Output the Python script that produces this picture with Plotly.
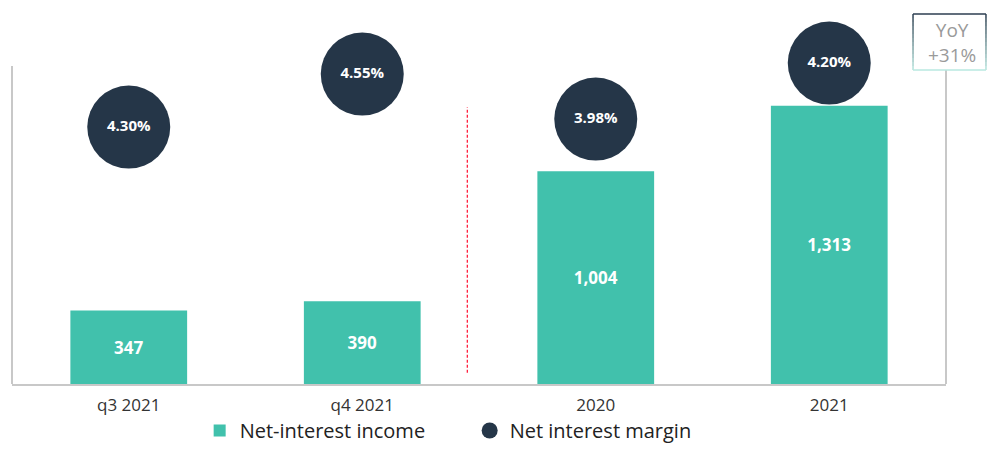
import plotly.graph_objects as go

# Net-interest income (bars) and net interest margin (bubbles)
periods = ["q3 2021", "q4 2021", "2020", "2021"]
net_interest_income = [347, 390, 1004, 1313]
net_interest_margin = [4.30, 4.55, 3.98, 4.20]
yoy_label = ["YoY", "+31%"]

TEAL = "#41c1ac"
NAVY = "#253648"
AXIS = "#c8c8c8"
FONT = "Open Sans"

quarterly = [0, 1]
annual = [2, 3]

# Frame height as a share of the plotting area (bubbles may rise above it)
FRAME_TOP = 318 / 364

fig = go.Figure()

fig.add_trace(go.Bar(
    x=periods,
    y=net_interest_income,
    name="Net-interest income",
    marker=dict(color=TEAL, line=dict(width=0)),
    text=[f"{v:,}" for v in net_interest_income],
    textposition="inside",
    insidetextanchor="middle",
    textfont=dict(family=FONT, size=17, color="white", weight="bold"),
    hoverinfo="skip",
))

# Margin bubbles: quarterly and annual panels each get their own scale
for idx, axis, show in [(quarterly, "y2", True), (annual, "y3", False)]:
    fig.add_trace(go.Scatter(
        x=[periods[i] for i in idx],
        y=[net_interest_margin[i] for i in idx],
        yaxis=axis,
        mode="markers+text",
        name="Net interest margin",
        legendgroup="nim",
        showlegend=show,
        marker=dict(color=NAVY, size=83, line=dict(width=0)),
        text=[f"{net_interest_margin[i]:.2f}%" for i in idx],
        textposition="middle center",
        textfont=dict(family=FONT, size=15, color="white", weight="bold"),
        cliponaxis=False,
        hoverinfo="skip",
    ))

# Left and right frame lines
for xx in (0, 1):
    fig.add_shape(type="line", xref="paper", yref="paper", x0=xx, x1=xx,
                  y0=0, y1=FRAME_TOP, line=dict(color=AXIS, width=2), layer="below")

# Dashed separator between the quarterly and annual panels
fig.add_shape(type="line", xref="x", yref="paper", x0=1.45, x1=1.45,
              y0=0.035 * FRAME_TOP, y1=0.87 * FRAME_TOP,
              line=dict(color="#ff1f3d", width=1.3, dash="3px,2px"))

# YoY box with a navy-to-teal gradient frame
px_h = 364.0
x0, x1 = 0.9647, 1.0428
y0, y1 = (384 - 70) / px_h, (384 - 14) / px_h
fig.add_shape(type="rect", xref="paper", yref="paper", x0=x0, x1=x1, y0=y0, y1=y1,
              fillcolor="white", line=dict(width=0), layer="above")
top_rgb = (44, 62, 80)
bot_rgb = (184, 232, 224)
n = 14
for k in range(n):
    t = (k + 0.5) / n
    c = tuple(int(top_rgb[j] + (bot_rgb[j] - top_rgb[j]) * t) for j in range(3))
    col = f"rgb{c}"
    ya = y1 - (y1 - y0) * k / n
    yb = y1 - (y1 - y0) * (k + 1) / n
    for xx in (x0, x1):
        fig.add_shape(type="line", xref="paper", yref="paper", x0=xx, x1=xx,
                      y0=ya, y1=yb, line=dict(color=col, width=1.5), layer="above")
fig.add_shape(type="line", xref="paper", yref="paper", x0=x0, x1=x1, y0=y1, y1=y1,
              line=dict(color="rgb(44,62,80)", width=1.5), layer="above")
fig.add_shape(type="line", xref="paper", yref="paper", x0=x0, x1=x1, y0=y0, y1=y0,
              line=dict(color="rgb(184,232,224)", width=1.5), layer="above")
fig.add_annotation(xref="paper", yref="paper", x=(x0 + x1) / 2 + 0.003, y=(y0 + y1) / 2,
                   text="<br>".join(yoy_label), showarrow=False,
                   font=dict(family=FONT, size=19, color="#9a9a9a"),
                   xanchor="center", yanchor="middle", align="center")

fig.update_layout(
    width=987, height=450,
    margin=dict(l=12, r=41, t=20, b=66),
    paper_bgcolor="white", plot_bgcolor="white",
    bargap=0.5,
    showlegend=True,
    legend=dict(orientation="h", x=0.49, xanchor="center",
                yref="container", y=-0.012, yanchor="bottom",
                bgcolor="rgba(0,0,0,0)",
                font=dict(family=FONT, size=20, color="#222222"),
                itemclick=False, itemdoubleclick=False, entrywidth=225),
    xaxis=dict(showline=True, linecolor=AXIS, linewidth=2, showgrid=False,
               ticks="", tickfont=dict(family=FONT, size=17, color="#333333"),
               ticklabelstandoff=5, automargin=False, fixedrange=True),
    yaxis=dict(range=[0, 1500 / FRAME_TOP], showline=False, showgrid=False,
               zeroline=False, showticklabels=False, ticks="", fixedrange=True),
    yaxis2=dict(overlaying="y", range=[3.088, 3.088 + 364 / 212], visible=False,
                fixedrange=True),
    yaxis3=dict(overlaying="y", range=[2.939, 2.939 + 364 / 254.5], visible=False,
                fixedrange=True),
    font=dict(family=FONT),
)

fig.write_html("out.html")
